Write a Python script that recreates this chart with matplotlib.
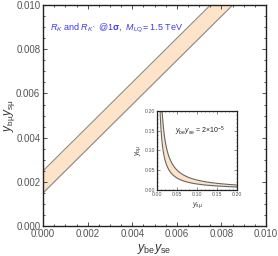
import numpy as np
import matplotlib
matplotlib.use("Agg")
import matplotlib.pyplot as plt
from matplotlib.ticker import MultipleLocator

plt.rcParams["font.family"] = ["Liberation Sans", "DejaVu Sans"]
plt.rcParams["mathtext.fontset"] = "custom"
plt.rcParams["mathtext.rm"] = "Liberation Sans"
plt.rcParams["mathtext.it"] = "Liberation Sans:italic"
plt.rcParams["mathtext.bf"] = "Liberation Sans:bold"

# Data
band_offsets = [0.0015, 0.0025]   # y_bmu*y_smu = y_be*y_se + c
main_x = np.linspace(0.0, 0.01, 200)
inset_products = [0.0015, 0.0025]  # y_bmu*y_smu product bounds
inset_x = np.linspace(0.005, 0.2, 400)
main_ticks = [0.000, 0.002, 0.004, 0.006, 0.008, 0.010]
inset_ticks = [0.00, 0.05, 0.10, 0.15, 0.20]

fill_c = "#fde3c8"
edge_c = "#8a8a8a"
tick_c = "#555555"

fig = plt.figure(figsize=(2.78, 2.56), dpi=100)
ax = fig.add_axes([0.155, 0.117, 0.802, 0.863])
lo = main_x + band_offsets[0]
hi = main_x + band_offsets[1]
ax.fill_between(main_x, lo, hi, color=fill_c, lw=0)
ax.plot(main_x, lo, color=edge_c, lw=0.8)
ax.plot(main_x, hi, color=edge_c, lw=0.8)
ax.set_xlim(0, 0.01)
ax.set_ylim(0, 0.01)
ax.set_xticks(main_ticks)
ax.set_yticks(main_ticks)
ax.set_xticklabels([f"{v:.3f}" for v in main_ticks])
ax.set_yticklabels([f"{v:.3f}" for v in main_ticks])
ax.xaxis.set_minor_locator(MultipleLocator(0.0005))
ax.yaxis.set_minor_locator(MultipleLocator(0.0005))
ax.tick_params(which="both", direction="in", top=True, right=True,
               labelsize=7, labelcolor=tick_c, color="#333333", width=0.6, pad=2)
ax.tick_params(which="major", length=3)
ax.tick_params(which="minor", length=1.5)
for s in ax.spines.values():
    s.set_linewidth(1.0)
    s.set_color("#222222")
ax.set_xlabel(r"$y_{\rm be}y_{\rm se}$", fontsize=9, color="#333333", labelpad=2)
ax.set_ylabel(r"$y_{\rm b\mu}y_{\rm s\mu}$", fontsize=8.5, color="#333333")
ax.yaxis.set_label_coords(-0.118, 0.5)
ax.text(0.03, 0.895, r"$R_K$ and $R_{K^*}$ @1$\mathbf{\sigma}$,  $M_{\rm LQ}$= 1.5 TeV",
        transform=ax.transAxes, fontsize=6.5, color="#3a3af0", va="center")

ins = fig.add_axes([0.565, 0.258, 0.288, 0.309])
ilo = inset_products[0] / inset_x
ihi = inset_products[1] / inset_x
ins.fill_between(inset_x, ilo, ihi, color=fill_c, lw=0)
ins.plot(inset_x, ilo, color="#666666", lw=0.8)
ins.plot(inset_x, ihi, color="#666666", lw=0.8)
ins.set_xlim(0, 0.2)
ins.set_ylim(0, 0.2)
ins.set_xticks(inset_ticks)
ins.set_yticks(inset_ticks)
ins.set_xticklabels([f"{v:.2f}" for v in inset_ticks])
ins.set_yticklabels([f"{v:.2f}" for v in inset_ticks])
ins.xaxis.set_minor_locator(MultipleLocator(0.01))
ins.yaxis.set_minor_locator(MultipleLocator(0.01))
ins.tick_params(which="both", direction="in", top=True, right=True,
                labelsize=3.8, labelcolor=tick_c, color="#333333", width=0.4, pad=1.5)
ins.tick_params(which="major", length=2)
ins.tick_params(which="minor", length=1)
for s in ins.spines.values():
    s.set_linewidth(0.9)
    s.set_color("#222222")
ins.set_xlabel(r"$y_{\rm s\mu}$", fontsize=5, color="#333333", labelpad=2)
ins.set_ylabel(r"$y_{\rm b\mu}$", fontsize=5, color="#333333", labelpad=1)
ins.text(0.22, 0.74, r"$y_{\rm be}y_{\rm se}$ = 2$\times$10$^{-5}$",
         transform=ins.transAxes, fontsize=5, color="#222222", va="center")

fig.savefig("out.png", dpi=100)
